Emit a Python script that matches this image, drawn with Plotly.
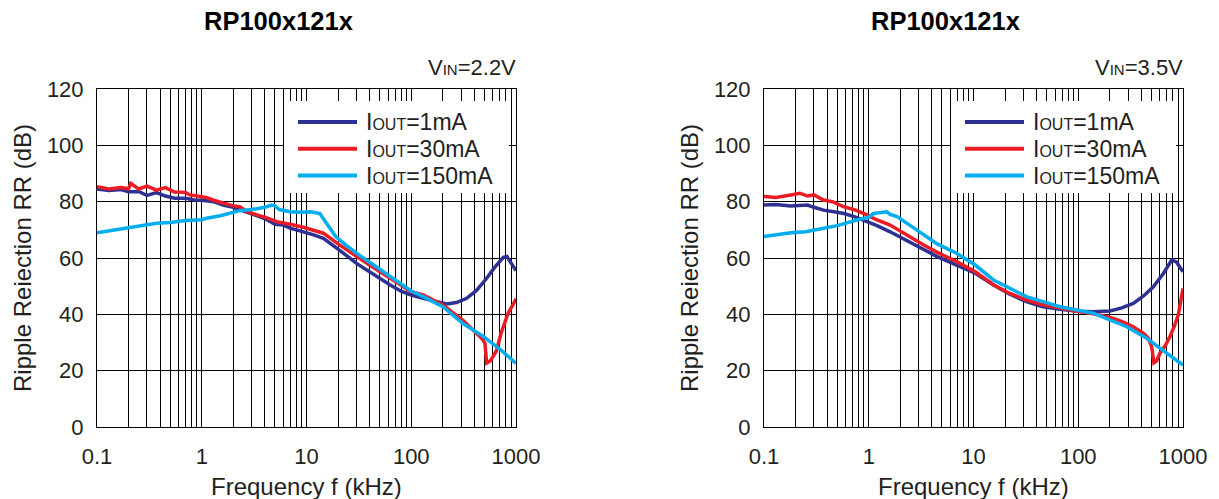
import plotly.graph_objects as go

# ---------------- data ----------------
# Left panel: VIN = 2.2 V
L_blue_f = [0.1, 0.13, 0.17, 0.2, 0.25, 0.3, 0.37, 0.45, 0.55, 0.7, 0.85, 1.0, 1.3, 1.6, 2.0, 2.3, 2.7,
            3.3, 4.0, 5.0, 6.0, 7.0, 9.0, 11.5, 14.5, 18, 22, 30, 40, 50, 63, 80, 100, 130, 170, 218,
            270, 338, 420, 525, 620, 700, 757, 820, 900, 1000]
L_blue_db = [84.5, 84.0, 84.3, 83.5, 83.6, 82.2, 83.2, 82.0, 81.2, 81.2, 80.6, 80.5, 80.0, 78.8, 78.0,
             77.2, 76.0, 74.9, 74.0, 72.0, 71.7, 70.6, 69.5, 68.3, 67.0, 64.5, 62.0, 58.1, 55.0, 52.8,
             50.4, 48.2, 46.8, 45.7, 44.5, 43.7, 44.2, 45.7, 48.5, 52.8, 56.5, 59.0, 60.2, 60.5, 58.0, 55.5]

L_red_f = [0.1, 0.13, 0.17, 0.2, 0.21, 0.25, 0.3, 0.37, 0.45, 0.55, 0.7, 0.77, 0.9, 1.1, 1.3, 1.6, 2.0,
           2.3, 2.7, 3.35, 4.0, 5.2, 6.0, 7.0, 9.3, 11.5, 14.5, 20, 30, 40, 63, 100, 130, 200, 310, 420,
           470, 505, 525, 570, 650, 720, 840, 940, 1000]
L_red_db = [85.3, 84.5, 85.0, 84.6, 86.5, 84.5, 85.5, 84.1, 85.0, 83.4, 83.3, 82.4, 82.0, 81.5, 80.5,
            79.4, 78.5, 78.2, 76.5, 75.3, 74.5, 72.9, 72.5, 72.0, 70.9, 70.0, 68.8, 65.0, 60.5, 57.5,
            52.8, 48.0, 46.9, 43.3, 38.0, 33.3, 31.5, 29.8, 22.7, 23.5, 27.0, 33.3, 40.4, 43.5, 45.5]

L_cyan_f = [0.1, 0.15, 0.2, 0.3, 0.37, 0.5, 0.7, 1.0, 1.11, 1.5, 2.0, 2.3, 3.0, 3.5, 4.0, 4.65, 5.0, 5.5,
            7.0, 9.0, 11, 13.4, 15, 19, 24, 30, 40, 63, 100, 130, 200, 310, 490, 720, 1000]
L_cyan_db = [69.0, 70.0, 70.8, 71.5, 72.3, 72.6, 73.3, 73.6, 74.1, 75.0, 76.0, 76.8, 77.2, 77.5, 78.0,
             78.8, 78.5, 77.2, 76.4, 76.2, 76.4, 75.8, 73.0, 67.6, 64.5, 61.7, 58.5, 53.4, 48.3, 46.3,
             42.7, 36.8, 32.1, 27.3, 22.6]

# Right panel: VIN = 3.5 V
R_blue_f = [0.1, 0.13, 0.18, 0.26, 0.3, 0.37, 0.45, 0.58, 0.75, 0.96, 1.2, 1.6, 2.2, 3.35, 4.5, 6.9, 10.4,
            15.5, 22, 32, 45, 67, 100, 139, 201, 260, 335, 420, 521, 650, 780, 870, 1000]
R_blue_db = [78.8, 79.0, 78.5, 78.8, 78.0, 77.0, 76.5, 75.8, 74.5, 72.9, 71.5, 69.3, 66.5, 62.8, 60.5,
             57.5, 54.6, 50.4, 47.2, 44.5, 42.8, 41.8, 41.1, 40.9, 41.2, 42.3, 43.9, 46.5, 49.8, 54.5,
             59.3, 58.5, 55.1]

R_red_f = [0.1, 0.13, 0.18, 0.22, 0.26, 0.3, 0.37, 0.45, 0.58, 0.75, 0.96, 1.2, 1.6, 2.2, 3.35, 4.5, 6.9,
           10.4, 15.5, 22, 32, 45, 67, 100, 139, 201, 260, 335, 420, 467, 502, 528, 560, 603, 680, 751,
           830, 902, 1000]
R_red_db = [81.8, 81.5, 82.4, 83.0, 82.0, 82.4, 80.6, 80.0, 78.2, 77.0, 75.3, 73.5, 71.7, 68.5, 64.6,
            62.0, 58.7, 55.1, 50.5, 47.5, 45.1, 43.5, 42.1, 41.0, 40.2, 38.9, 37.5, 35.6, 33.2, 31.5,
            28.5, 22.8, 23.5, 26.2, 29.0, 32.1, 36.0, 39.8, 49.2]

R_cyan_f = [0.1, 0.18, 0.25, 0.37, 0.5, 0.77, 1.0, 1.11, 1.3, 1.49, 1.6, 1.86, 2.5, 3.35, 4.5, 6.9, 10.4,
            15.5, 32, 67, 139, 290, 450, 698, 1000]
R_cyan_db = [67.6, 69.0, 69.3, 70.5, 71.5, 73.5, 74.5, 75.8, 76.0, 76.4, 75.5, 74.7, 71.5, 68.2, 65.0,
             61.7, 57.5, 52.2, 46.3, 42.7, 40.4, 35.6, 31.5, 26.2, 22.0]

series_names = ["I<span style='font-size:16px'>OUT</span>=1mA",
                "I<span style='font-size:16px'>OUT</span>=30mA",
                "I<span style='font-size:16px'>OUT</span>=150mA"]
series_colors = ["#2E3192", "#ED1C24", "#00AEEF"]
panel_titles = ["RP100x121x", "RP100x121x"]
panel_conditions = ["V<span style='font-size:15px'>IN</span>=2.2V",
                    "V<span style='font-size:15px'>IN</span>=3.5V"]
x_tick_labels = ["0.1", "1", "10", "100", "1000"]
y_ticks = [0, 20, 40, 60, 80, 100, 120]
x_title = "Frequency f (kHz)"
y_title = "Ripple Reiection RR (dB)"

panels = [
    [(L_blue_f, L_blue_db), (L_red_f, L_red_db), (L_cyan_f, L_cyan_db)],
    [(R_blue_f, R_blue_db), (R_red_f, R_red_db), (R_cyan_f, R_cyan_db)],
]

# ---------------- layout helpers ----------------
# The page body has an 8px margin, so the figure is drawn 8px in from the corner.
OFF = 8
W, H = 1219 - OFF, 499 - OFF
FONT = "Liberation Sans, Arial, sans-serif"
TXT = "#231F20"


def px(x):
    return (x - OFF) / W


def py(y):
    return 1 - (y - OFF) / H


plot_left = [97, 764]
plot_right = [516, 1183]
plot_top, plot_bottom = 89, 427

fig = go.Figure()

# log grid values (every 1..9 multiple per decade), labels only at decades
grid_vals = []
grid_text = []
for k, d in enumerate([0.1, 1, 10, 100]):
    for m in range(1, 10):
        grid_vals.append(d * m)
        grid_text.append(x_tick_labels[k] if m == 1 else "")
grid_vals.append(1000)
grid_text.append(x_tick_labels[-1])

for i, panel in enumerate(panels):
    xa = "x" if i == 0 else "x2"
    ya = "y" if i == 0 else "y2"
    for (f, db), name, col in zip(panel, series_names, series_colors):
        fig.add_trace(go.Scatter(x=f, y=db, mode="lines", name=name,
                                 line=dict(color=col, width=3.5),
                                 xaxis=xa, yaxis=ya, showlegend=False))

    axis_x = dict(
        type="log", range=[-1, 3], tickvals=grid_vals, ticktext=grid_text,
        showgrid=True, gridcolor="black", gridwidth=1, zeroline=False,
        showline=True, linecolor="black", linewidth=1, mirror=True, ticks="",
        tickfont=dict(family=FONT, size=22, color=TXT), ticklabelstandoff=10,
        domain=[px(plot_left[i]), px(plot_right[i])], anchor=ya, automargin=False,
    )
    axis_y = dict(
        range=[0, 120], tickvals=y_ticks, showgrid=True, gridcolor="black", gridwidth=1,
        zeroline=False, showline=True, linecolor="black", linewidth=1, mirror=True, ticks="",
        tickfont=dict(family=FONT, size=22, color=TXT), ticklabelstandoff=8,
        domain=[py(plot_bottom), py(plot_top)], anchor=xa, automargin=False,
    )
    fig.layout["xaxis" if i == 0 else "xaxis2"] = axis_x
    fig.layout["yaxis" if i == 0 else "yaxis2"] = axis_y

    off = plot_left[i] - plot_left[0]
    # legend box (covers grid)
    fig.add_shape(type="rect", xref="paper", yref="paper",
                  x0=px(284 + off), x1=px(509 + off), y0=py(193), y1=py(101),
                  fillcolor="white", line=dict(width=0), layer="above")
    for k, (name, col) in enumerate(zip(series_names, series_colors)):
        yy = 122 + k * 26.8
        fig.add_shape(type="line", xref="paper", yref="paper",
                      x0=px(298 + off), x1=px(357 + off), y0=py(yy), y1=py(yy),
                      line=dict(color=col, width=4), layer="above")
        fig.add_annotation(xref="paper", yref="paper", x=px(364 + off), y=py(yy),
                           xanchor="left", yanchor="middle", showarrow=False, text=name,
                           font=dict(family=FONT, size=23, color=TXT))

    # titles & labels
    fig.add_annotation(xref="paper", yref="paper", x=px(278 + off), y=py(21),
                       xanchor="center", yanchor="middle", showarrow=False,
                       text=f"<b>{panel_titles[i]}</b>",
                       font=dict(family=FONT, size=25.5, color="black"))
    fig.add_annotation(xref="paper", yref="paper", x=px(plot_right[i] + 2), y=py(68),
                       xanchor="right", yanchor="middle", showarrow=False,
                       text=panel_conditions[i],
                       font=dict(family=FONT, size=22, color=TXT))
    fig.add_annotation(xref="paper", yref="paper", x=px((plot_left[i] + plot_right[i]) / 2), y=py(486),
                       xanchor="center", yanchor="middle", showarrow=False, text=x_title,
                       font=dict(family=FONT, size=24, color=TXT))
    fig.add_annotation(xref="paper", yref="paper", x=px(22 + off), y=py(258),
                       xanchor="center", yanchor="middle", showarrow=False, text=y_title,
                       textangle=-90, font=dict(family=FONT, size=24, color=TXT))

fig.update_layout(
    width=W, height=H, margin=dict(l=0, r=0, t=0, b=0),
    paper_bgcolor="white", plot_bgcolor="white", showlegend=False,
)

fig.write_html("out.html")
